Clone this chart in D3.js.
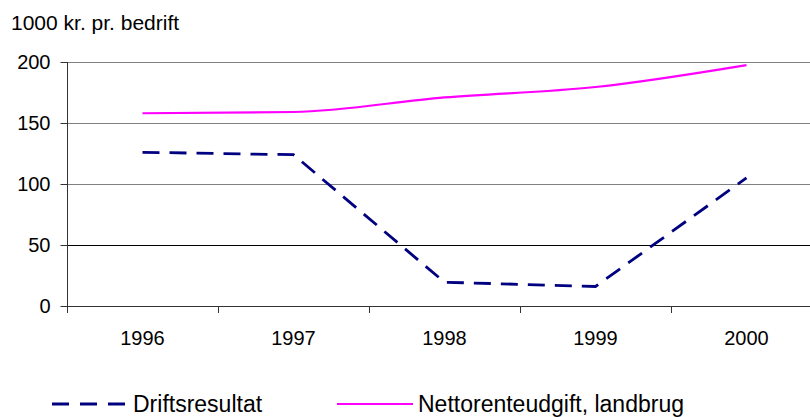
<!DOCTYPE html>
<html>
<head>
<meta charset="utf-8">
<script src="https://cdn.jsdelivr.net/npm/d3@7"></script>
<style>
  html, body { margin: 0; padding: 0; background: #fff; }
  svg { display: block; font-family: "Liberation Sans", Arial, sans-serif; }
</style>
</head>
<body>
<svg id="chart" width="810" height="417"></svg>
<script>
const years = ["1996", "1997", "1998", "1999", "2000"];
const driftsresultat = [126, 124, 19.5, 16, 105];
const nettorente = [158, 159, 171, 179.5, 197.5];
const yTicks = [0, 50, 100, 150, 200];
const yLabel = "1000 kr. pr. bedrift";
const seriesNames = ["Driftsresultat", "Nettorenteudgift, landbrug"];

(function () {
const svg = d3.select("#chart");
const mLeft = 67, mTop = 62, mBottom = 306;
const bandW = 151;
const mRight = mLeft + bandW * years.length;

const x = d3.scaleBand().domain(years).range([mLeft, mRight]).padding(0);
const y = d3.scaleLinear().domain([0, 200]).range([mBottom, mTop]);

// gridlines
svg.append("g").selectAll("line").data(yTicks.filter(d => d > 0)).join("line")
  .attr("x1", mLeft).attr("x2", mRight)
  .attr("y1", d => y(d) + 0.5).attr("y2", d => y(d) + 0.5)
  .attr("stroke", d => d === 50 ? "#000" : "#808080")
  .attr("stroke-width", 1);

// y axis
const yAxis = svg.append("g").attr("transform", `translate(${mLeft + 0.5},0)`)
  .call(d3.axisLeft(y).tickValues(yTicks).tickSize(7).tickPadding(10));
yAxis.select(".domain").attr("stroke", "#333").attr("d", `M0,${mTop}V${mBottom + 7}`);
yAxis.selectAll(".tick line").attr("stroke", "#333");
yAxis.selectAll(".tick text").attr("font-size", 20).attr("fill", "#000")
  .attr("font-family", "Liberation Sans, Arial, sans-serif");

// x axis
const xAxis = svg.append("g").attr("transform", `translate(0,${mBottom + 0.5})`)
  .call(d3.axisBottom(x).tickSize(0).tickPadding(24));
xAxis.select(".domain").attr("stroke", "#333").attr("d", `M${mLeft},0H${mRight}`);
xAxis.selectAll(".tick text").attr("font-size", 20).attr("fill", "#000")
  .attr("font-family", "Liberation Sans, Arial, sans-serif");
svg.append("g").selectAll("line").data(d3.range(years.length + 1)).join("line")
  .attr("x1", i => mLeft + i * x.bandwidth() + 0.5).attr("x2", i => mLeft + i * x.bandwidth() + 0.5)
  .attr("y1", mBottom).attr("y2", mBottom + 7)
  .attr("stroke", "#333");

// y label
svg.append("text").attr("x", 11).attr("y", 30).attr("font-size", 21).attr("fill", "#000")
  .text(yLabel);

const cx = d => x(d) + x.bandwidth() / 2;

// Nettorenteudgift
svg.append("path")
  .datum(years.map((d, i) => [cx(d), y(nettorente[i])]))
  .attr("fill", "none").attr("stroke", "#FF00FF").attr("stroke-width", 2.2)
  .attr("d", d3.line().curve(d3.curveMonotoneX));

// Driftsresultat
svg.append("path")
  .datum(years.map((d, i) => [cx(d), y(driftsresultat[i])]))
  .attr("fill", "none").attr("stroke", "#000080").attr("stroke-width", 2.8)
  .attr("stroke-dasharray", "17,10")
  .attr("d", d3.line());

// legend
const leg = svg.append("g");
const ly = 404, lb = 411.5;
leg.append("line").attr("x1", 52).attr("x2", 125).attr("y1", ly).attr("y2", ly)
  .attr("stroke", "#000080").attr("stroke-width", 2.8).attr("stroke-dasharray", "17,11");
leg.append("text").attr("x", 133).attr("y", lb).attr("font-size", 23).attr("fill", "#000")
  .text(seriesNames[0]);
leg.append("line").attr("x1", 337).attr("x2", 413).attr("y1", ly).attr("y2", ly)
  .attr("stroke", "#FF00FF").attr("stroke-width", 2.2);
leg.append("text").attr("x", 418).attr("y", lb).attr("font-size", 23).attr("fill", "#000")
  .text(seriesNames[1]);
})();
</script>
</body>
</html>
